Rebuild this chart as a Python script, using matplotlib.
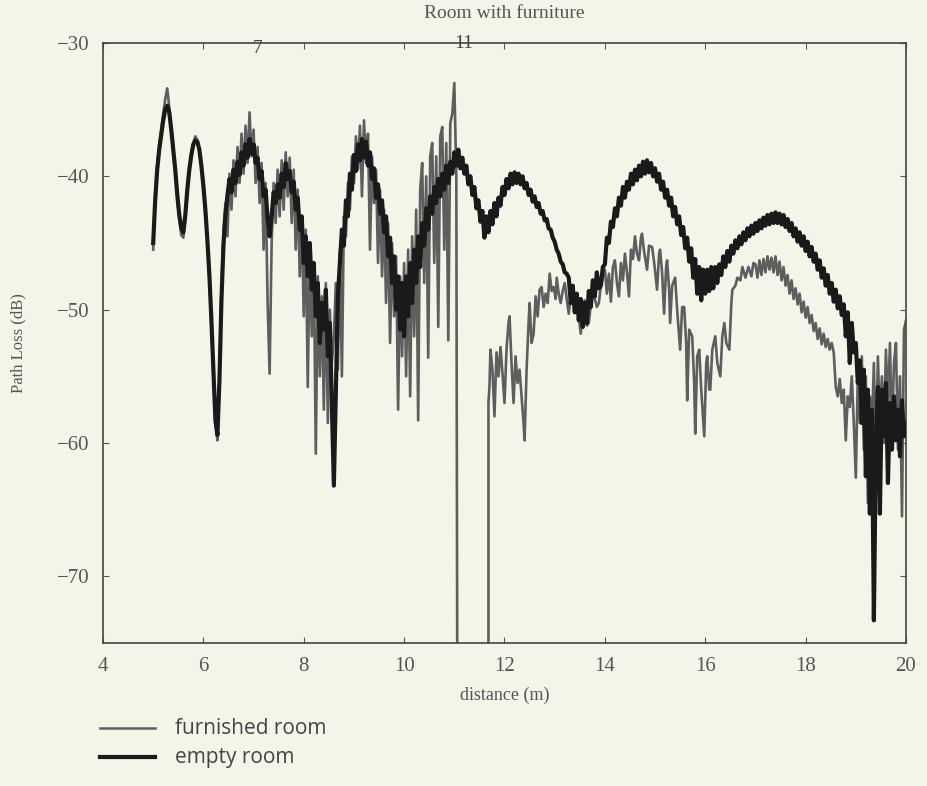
import matplotlib
matplotlib.use("Agg")
import matplotlib.pyplot as plt
from matplotlib.lines import Line2D

# empty room (black trace)
x_empty = [
    5.00, 5.04, 5.08, 5.12, 5.16, 5.20, 5.24, 5.28, 5.32, 5.36, 5.40, 5.44, 5.48, 5.52, 5.56, 5.60,
    5.64, 5.68, 5.72, 5.76, 5.80, 5.84, 5.88, 5.92, 5.96, 6.00, 6.04, 6.08, 6.12, 6.16, 6.20, 6.24,
    6.28, 6.32, 6.36, 6.40, 6.44, 6.48, 6.52, 6.56, 6.60, 6.64, 6.68, 6.72, 6.76, 6.80, 6.84, 6.88,
    6.92, 6.96, 7.00, 7.04, 7.08, 7.12, 7.16, 7.20, 7.24, 7.28, 7.32, 7.36, 7.40, 7.44, 7.48, 7.52,
    7.56, 7.60, 7.64, 7.68, 7.72, 7.76, 7.80, 7.84, 7.88, 7.92, 7.96, 8.00, 8.04, 8.08, 8.12, 8.16,
    8.20, 8.24, 8.28, 8.32, 8.36, 8.40, 8.44, 8.48, 8.52, 8.56, 8.60, 8.64, 8.68, 8.72, 8.76, 8.80,
    8.84, 8.88, 8.92, 8.96, 9.00, 9.04, 9.08, 9.12, 9.16, 9.20, 9.24, 9.28, 9.32, 9.36, 9.40, 9.44,
    9.48, 9.52, 9.56, 9.60, 9.64, 9.68, 9.72, 9.76, 9.80, 9.84, 9.88, 9.92, 9.96, 10.00, 10.04, 10.08,
    10.12, 10.16, 10.20, 10.24, 10.28, 10.32, 10.36, 10.40, 10.44, 10.48, 10.52, 10.56, 10.60, 10.64,
    10.68, 10.72, 10.76, 10.80, 10.84, 10.88, 10.92, 10.96, 11.00, 11.04, 11.08, 11.12, 11.16, 11.20,
    11.24, 11.28, 11.32, 11.36, 11.40, 11.44, 11.48, 11.52, 11.56, 11.60, 11.64, 11.68, 11.72, 11.76,
    11.80, 11.84, 11.88, 11.92, 11.96, 12.00, 12.04, 12.08, 12.12, 12.16, 12.20, 12.24, 12.28, 12.32,
    12.36, 12.40, 12.44, 12.48, 12.52, 12.56, 12.60, 12.64, 12.68, 12.72, 12.76, 12.80, 12.84, 12.88,
    12.92, 12.96, 13.00, 13.04, 13.08, 13.12, 13.16, 13.20, 13.24, 13.28, 13.32, 13.36, 13.40, 13.44,
    13.48, 13.52, 13.56, 13.60, 13.64, 13.68, 13.72, 13.76, 13.80, 13.84, 13.88, 13.92, 13.96, 14.00,
    14.04, 14.08, 14.12, 14.16, 14.20, 14.24, 14.28, 14.32, 14.36, 14.40, 14.44, 14.48, 14.52, 14.56,
    14.60, 14.64, 14.68, 14.72, 14.76, 14.80, 14.84, 14.88, 14.92, 14.96, 15.00, 15.04, 15.08, 15.12,
    15.16, 15.20, 15.24, 15.28, 15.32, 15.36, 15.40, 15.44, 15.48, 15.52, 15.56, 15.60, 15.64, 15.68,
    15.72, 15.76, 15.80, 15.84, 15.88, 15.92, 15.96, 16.00, 16.04, 16.08, 16.12, 16.16, 16.20, 16.24,
    16.28, 16.32, 16.36, 16.40, 16.44, 16.48, 16.52, 16.56, 16.60, 16.64, 16.68, 16.72, 16.76, 16.80,
    16.84, 16.88, 16.92, 16.96, 17.00, 17.04, 17.08, 17.12, 17.16, 17.20, 17.24, 17.28, 17.32, 17.36,
    17.40, 17.44, 17.48, 17.52, 17.56, 17.60, 17.64, 17.68, 17.72, 17.76, 17.80, 17.84, 17.88, 17.92,
    17.96, 18.00, 18.04, 18.08, 18.12, 18.16, 18.20, 18.24, 18.28, 18.32, 18.36, 18.40, 18.44, 18.48,
    18.52, 18.56, 18.60, 18.64, 18.68, 18.72, 18.76, 18.80, 18.84, 18.88, 18.92, 18.96, 19.00, 19.04,
    19.08, 19.12, 19.16, 19.20, 19.24, 19.28, 19.32, 19.36, 19.40, 19.44, 19.48, 19.52, 19.56, 19.60,
    19.64, 19.68, 19.72, 19.76, 19.80, 19.84, 19.88, 19.92, 19.96, 20.00,
]
y_empty = [
    -45.0, -41.8, -39.5, -38.0, -36.9, -35.8, -35.0, -34.7, -35.2, -36.5, -38.0, -39.5, -41.4, -42.9, -43.9, -44.2,
    -42.9, -41.0, -39.5, -38.4, -37.6, -37.3, -37.4, -38.0, -39.2, -40.7, -42.5, -44.8, -47.4, -50.8, -54.5, -58.3,
    -59.4, -55.3, -49.3, -45.2, -42.9, -41.4, -40.2, -41.2, -39.5, -40.5, -38.9, -39.9, -38.2, -39.2, -37.6, -38.6,
    -37.2, -38.3, -37.6, -39.0, -38.6, -40.2, -39.6, -41.5, -41.0, -43.2, -44.5, -43.0, -41.2, -42.0, -40.6, -41.6,
    -39.8, -40.8, -39.0, -40.2, -39.6, -41.2, -40.4, -42.5, -41.6, -44.0, -43.0, -46.5, -44.5, -47.5, -45.0, -48.5,
    -46.5, -50.5, -48.0, -52.5, -49.5, -51.5, -48.5, -53.5, -51.0, -57.0, -63.2, -56.0, -49.0, -46.5, -44.0, -45.2,
    -41.8, -43.0, -39.8, -41.0, -38.4, -39.6, -37.6, -38.8, -37.2, -38.6, -37.4, -39.2, -38.2, -40.2, -39.4, -41.6,
    -40.6, -42.8, -41.8, -44.2, -43.0, -46.0, -44.6, -48.0, -46.0, -50.0, -47.5, -51.5, -48.0, -52.0, -47.5, -50.5,
    -46.5, -49.5, -45.5, -48.0, -44.5, -46.8, -43.5, -45.2, -42.4, -44.0, -41.5, -42.8, -40.8, -42.0,
    -40.2, -41.5, -39.8, -41.0, -39.2, -40.5, -38.9, -39.8, -38.2, -39.2, -38.0, -39.4, -38.6, -39.8,
    -39.2, -40.6, -40.0, -41.4, -40.8, -42.4, -41.8, -43.4, -42.6, -44.6, -43.0, -44.2, -42.6, -43.6,
    -42.0, -43.0, -41.6, -42.2, -40.8, -41.4, -40.2, -40.9, -39.8, -40.6, -39.7, -40.5, -39.8, -40.6,
    -40.0, -40.9, -40.5, -41.4, -41.0, -41.9, -41.5, -42.3, -42.0, -42.8, -42.6, -43.3, -43.2, -43.9,
    -44.0, -44.6, -44.9, -45.5, -45.8, -46.4, -46.6, -47.2, -47.3, -47.6, -49.5, -48.2, -50.2, -48.8,
    -50.8, -49.2, -51.3, -49.5, -51.0, -48.6, -49.8, -47.8, -49.0, -47.2, -48.4, -48.2, -46.8, -46.6,
    -44.6, -45.0, -43.4, -43.8, -42.4, -43.0, -41.6, -42.2, -40.8, -41.6, -40.4, -41.0, -39.8, -40.6,
    -39.5, -40.3, -39.2, -40.0, -38.9, -39.8, -38.8, -39.7, -39.0, -40.0, -39.4, -40.4, -39.8, -41.0,
    -40.4, -41.6, -41.0, -42.2, -41.6, -43.0, -42.3, -43.6, -43.0, -44.4, -43.8, -45.4, -44.6, -46.4,
    -45.4, -47.6, -46.2, -48.8, -46.8, -49.3, -47.0, -48.8, -47.0, -48.6, -46.8, -48.4, -46.8, -48.0,
    -46.6, -47.4, -46.0, -46.8, -45.6, -46.4, -45.2, -45.8, -44.8, -45.4, -44.5, -45.1, -44.2, -44.8,
    -43.9, -44.5, -43.7, -44.3, -43.5, -44.1, -43.3, -43.9, -43.1, -43.7, -42.9, -43.6, -42.8, -43.5,
    -42.7, -43.5, -42.8, -43.6, -42.9, -43.8, -43.2, -44.1, -43.5, -44.5, -43.9, -44.9, -44.2, -45.2,
    -44.5, -45.6, -44.9, -46.0, -45.3, -46.4, -45.8, -47.0, -46.3, -47.6, -46.9, -48.2, -47.4, -48.8,
    -48.0, -49.4, -48.5, -49.9, -49.0, -50.4, -49.6, -52.0, -50.2, -54.0, -51.0, -53.2, -52.5, -55.5,
    -53.8, -58.5, -54.5, -62.5, -56.0, -65.3, -57.5, -73.3, -60.0, -55.8, -65.3, -56.0, -59.5, -55.5,
    -63.0, -57.0, -60.5, -56.5, -59.8, -57.5, -61.0, -56.8, -59.5, -58.5,
]

# furnished room (grey trace); -80 marks the dropout below the frame
x_furn = [
    5.00, 5.04, 5.08, 5.12, 5.16, 5.20, 5.24, 5.28, 5.32, 5.36, 5.40, 5.44, 5.48, 5.52, 5.56, 5.60,
    5.64, 5.68, 5.72, 5.76, 5.80, 5.84, 5.88, 5.92, 5.96, 6.00, 6.04, 6.08, 6.12, 6.16, 6.20, 6.24,
    6.28, 6.32, 6.36, 6.40, 6.44, 6.48, 6.52, 6.56, 6.60, 6.64, 6.68, 6.72, 6.76, 6.80, 6.84, 6.88,
    6.92, 6.96, 7.00, 7.04, 7.08, 7.12, 7.16, 7.20, 7.24, 7.28, 7.32, 7.36, 7.40, 7.44, 7.48, 7.52,
    7.56, 7.60, 7.64, 7.68, 7.72, 7.76, 7.80, 7.84, 7.88, 7.92, 7.96, 8.00, 8.04, 8.08, 8.12, 8.16,
    8.20, 8.24, 8.28, 8.32, 8.36, 8.40, 8.44, 8.48, 8.52, 8.56, 8.60, 8.64, 8.68, 8.72, 8.76, 8.80,
    8.84, 8.88, 8.92, 8.96, 9.00, 9.04, 9.08, 9.12, 9.16, 9.20, 9.24, 9.28, 9.32, 9.36, 9.40, 9.44,
    9.48, 9.52, 9.56, 9.60, 9.64, 9.68, 9.72, 9.76, 9.80, 9.84, 9.88, 9.92, 9.96, 10.00, 10.04, 10.08,
    10.12, 10.16, 10.20, 10.24, 10.28, 10.32, 10.36, 10.40, 10.44, 10.48, 10.52, 10.56, 10.60, 10.64,
    10.68, 10.72, 10.76, 10.80, 10.84, 10.88, 10.92, 10.96, 11.00, 11.04, 11.06, 11.68, 11.68, 11.70,
    11.72, 11.76, 11.80, 11.84, 11.88, 11.92, 11.96, 12.00, 12.04, 12.08, 12.10, 12.14, 12.18, 12.22,
    12.26, 12.30, 12.34, 12.38, 12.40, 12.44, 12.48, 12.50, 12.54, 12.58, 12.62, 12.66, 12.70, 12.74,
    12.78, 12.82, 12.86, 12.90, 12.94, 12.98, 13.02, 13.04, 13.08, 13.12, 13.16, 13.20, 13.24, 13.28,
    13.32, 13.36, 13.40, 13.44, 13.48, 13.52, 13.56, 13.60, 13.64, 13.68, 13.72, 13.76, 13.80, 13.84,
    13.88, 13.92, 13.96, 14.00, 14.04, 14.08, 14.12, 14.16, 14.20, 14.24, 14.28, 14.32, 14.36, 14.40,
    14.44, 14.48, 14.52, 14.56, 14.60, 14.64, 14.68, 14.72, 14.74, 14.78, 14.84, 14.88, 14.94, 14.98,
    15.04, 15.08, 15.10, 15.14, 15.18, 15.22, 15.24, 15.28, 15.30, 15.34, 15.40, 15.44, 15.50, 15.54,
    15.58, 15.62, 15.64, 15.68, 15.74, 15.78, 15.80, 15.84, 15.88, 15.92, 15.98, 16.02, 16.04, 16.08,
    16.10, 16.14, 16.20, 16.24, 16.30, 16.34, 16.38, 16.42, 16.48, 16.52, 16.54, 16.60, 16.64, 16.70,
    16.74, 16.80, 16.86, 16.92, 16.96, 17.00, 17.04, 17.08, 17.12, 17.16, 17.20, 17.24, 17.28, 17.32,
    17.36, 17.40, 17.44, 17.48, 17.52, 17.56, 17.60, 17.64, 17.68, 17.72, 17.76, 17.80, 17.84, 17.88,
    17.92, 17.96, 18.00, 18.04, 18.08, 18.12, 18.16, 18.20, 18.24, 18.28, 18.32, 18.36, 18.40, 18.44,
    18.48, 18.52, 18.56, 18.60, 18.64, 18.68, 18.72, 18.76, 18.80, 18.84, 18.88, 18.92, 18.96, 19.00,
    19.04, 19.08, 19.12, 19.16, 19.20, 19.24, 19.28, 19.32, 19.36, 19.40, 19.44, 19.48, 19.52, 19.56,
    19.60, 19.64, 19.68, 19.72, 19.76, 19.80, 19.84, 19.88, 19.92, 19.96, 20.00,
]
y_furn = [
    -45.5, -41.5, -39.2, -37.6, -36.5, -35.3, -34.2, -33.4, -34.8, -36.3, -38.0, -39.8, -41.6, -43.2, -44.4, -44.6,
    -43.2, -41.2, -39.6, -38.4, -37.5, -37.0, -37.3, -38.0, -39.2, -40.8, -42.8, -45.0, -47.8, -51.0, -55.0, -58.5,
    -59.8, -55.0, -48.5, -44.0, -42.0, -44.5, -39.8, -42.5, -38.8, -41.5, -37.8, -40.5, -36.8, -39.8, -36.2, -39.0,
    -35.2, -38.5, -36.5, -40.5, -37.8, -42.0, -39.0, -45.5, -40.5, -49.5, -54.8, -45.0, -40.5, -43.5, -39.5, -43.0,
    -38.8, -42.5, -38.2, -41.5, -38.6, -43.5, -39.5, -45.5, -41.0, -47.5, -43.0, -50.5, -44.0, -55.8, -45.0, -52.0,
    -46.5, -60.8, -47.5, -55.0, -49.0, -57.5, -48.0, -58.5, -50.0, -54.0, -52.0, -48.0, -54.5, -45.5, -55.0, -43.0,
    -44.5, -40.5, -42.5, -38.5, -40.5, -37.0, -39.5, -36.2, -41.5, -35.8, -39.0, -36.8, -45.5, -38.5, -42.0, -39.5,
    -46.5, -41.0, -47.5, -42.5, -49.5, -43.5, -52.5, -45.0, -50.5, -46.0, -57.5, -47.5, -53.5, -46.5, -55.0, -45.5,
    -56.5, -44.5, -52.0, -42.5, -58.3, -41.0, -39.0, -48.0, -40.0, -53.6, -38.5, -37.5, -46.5, -38.5,
    -51.3, -37.0, -36.3, -45.5, -37.5, -52.3, -36.0, -35.3, -33.0, -40.0, -80.0, -80.0, -57.0, -55.8,
    -53.0, -54.5, -58.0, -53.2, -55.0, -52.8, -54.8, -57.0, -53.0, -51.0, -50.5, -54.0, -57.0, -53.5,
    -55.5, -54.5, -56.5, -58.5, -59.8, -54.5, -51.0, -49.5, -52.5, -51.8, -49.0, -50.5, -48.5, -48.3,
    -49.8, -48.8, -49.5, -47.3, -48.6, -48.3, -49.2, -47.6, -48.8, -49.5, -48.6, -48.0, -49.2, -50.3,
    -49.0, -48.8, -50.2, -49.2, -50.5, -51.8, -49.8, -49.3, -51.2, -51.0, -49.6, -48.3, -49.2, -49.8,
    -49.5, -48.2, -47.5, -47.0, -48.8, -47.3, -49.4, -46.8, -46.3, -48.0, -49.0, -46.5, -47.8, -45.8,
    -47.2, -49.0, -45.5, -46.2, -44.5, -45.8, -46.3, -44.6, -44.3, -45.6, -47.0, -45.2, -45.3, -46.4,
    -48.5, -45.8, -45.5, -47.2, -50.3, -46.8, -46.3, -48.5, -51.0, -48.2, -47.6, -50.0, -53.0, -49.8,
    -49.8, -52.5, -56.8, -51.5, -52.0, -55.5, -59.3, -53.5, -53.0, -56.0, -59.5, -54.0, -53.5, -56.0,
    -56.0, -53.0, -52.0, -54.0, -55.0, -52.0, -51.0, -52.5, -53.0, -49.5, -48.5, -48.2, -47.6, -47.8,
    -46.8, -47.6, -46.8, -47.5, -46.5, -46.6, -47.6, -46.3, -47.4, -46.2, -47.2, -46.0, -47.0, -46.1,
    -47.2, -46.0, -47.4, -46.4, -47.8, -46.8, -48.2, -47.4, -48.8, -47.8, -49.2, -48.4, -49.6, -48.8,
    -50.2, -49.4, -50.6, -49.8, -51.0, -50.4, -51.6, -51.0, -52.2, -51.4, -52.6, -51.8, -52.8, -52.2,
    -53.0, -52.5, -53.2, -55.8, -56.5, -55.2, -57.0, -56.0, -59.8, -56.5, -57.3, -55.0, -58.5, -62.6,
    -55.0, -58.5, -53.5, -60.5, -55.0, -64.5, -56.5, -59.0, -54.0, -61.5, -53.5, -58.5, -55.0, -60.0,
    -53.0, -57.5, -52.5, -59.5, -54.0, -52.5, -60.5, -55.0, -65.5, -51.5, -50.8,
]

yticks = [-70, -60, -50, -40, -30]
xticks = [4, 6, 8, 10, 12, 14, 16, 18, 20]
peak_labels = [(7.08, -30.4, "7"), (11.18, -30.0, "11")]

bg = "#f4f5e8"
serif = ["Liberation Serif", "DejaVu Serif"]

fig = plt.figure(figsize=(9.28, 7.86), dpi=100, facecolor=bg)
ax = fig.add_axes([103 / 928, 1 - 643 / 786, 803 / 928, 600 / 786])
ax.set_facecolor(bg)

ax.plot(x_furn, y_furn, color="#5e5e5e", lw=1.9, zorder=2)
ax.plot(x_empty, y_empty, color="#1a1a1a", lw=3.0, zorder=3)

ax.set_xlim(4, 20)
ax.set_ylim(-75, -30)
ax.set_xticks(xticks)
ax.set_yticks(yticks)
ax.set_yticklabels(["\u221270", "\u221260", "\u221250", "\u221240", "\u221230"])
ax.tick_params(direction="in", length=4, width=0.8, color="#555555",
               labelsize=15, labelcolor="#555555", top=True, right=True, pad=10)
for lab in ax.get_xticklabels() + ax.get_yticklabels():
    lab.set_family(serif)
for sp in ax.spines.values():
    sp.set_color("#444444")
    sp.set_linewidth(1.2)

for x, y, s in peak_labels:
    ax.text(x, y, s, ha="center", va="center", fontsize=14, family=serif,
            color="#444444", clip_on=False)

ax.set_title("Room with furniture", fontsize=14, family=serif, color="#555555", pad=18)
ax.set_xlabel("distance (m)", fontsize=13, family=serif, color="#555555", labelpad=8)
ax.set_ylabel("Path Loss (dB)", fontsize=12, family=serif, color="#555555", labelpad=22)

# legend below the axes, drawn by hand like the original
fig.add_artist(Line2D([100 / 928, 155 / 928], [1 - 728 / 786, 1 - 728 / 786],
                      color="#5e5e5e", lw=1.8))
fig.add_artist(Line2D([100 / 928, 155 / 928], [1 - 757 / 786, 1 - 757 / 786],
                      color="#1a1a1a", lw=3.0))
fig.text(175 / 928, 1 - 728 / 786, "furnished room", fontsize=15, family="Open Sans",
         color="#444444", va="center")
fig.text(175 / 928, 1 - 757 / 786, "empty room", fontsize=15, family="Open Sans",
         color="#444444", va="center")

fig.savefig("out.png", dpi=100, facecolor=bg)
